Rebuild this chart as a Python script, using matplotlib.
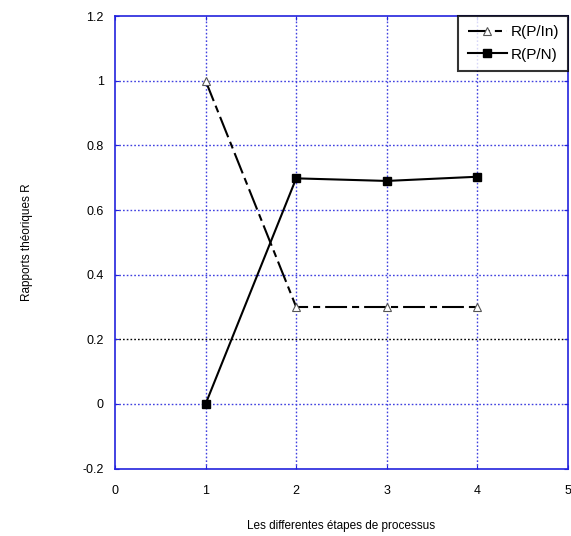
import matplotlib
matplotlib.use("Agg")
import matplotlib.pyplot as plt

plt.rcParams['font.family'] = ['Liberation Sans', 'DejaVu Sans']

steps = [1, 2, 3, 4]
r_p_in = [1.0, 0.3, 0.3, 0.3]
r_p_n = [0.0, 0.698, 0.69, 0.703]
xticks = [0, 1, 2, 3, 4, 5]
yticks = [-0.2, 0, 0.2, 0.4, 0.6, 0.8, 1, 1.2]

fig = plt.figure(figsize=(5.71, 5.36), dpi=100)
ax = fig.add_axes([0.2014, 0.1257, 0.7933, 0.8443])

ax.set_xlim(0, 5)
ax.set_ylim(-0.2, 1.2)
ax.set_xticks(xticks)
ax.set_yticks(yticks)
ax.set_xticklabels([str(t) for t in xticks])
ax.set_yticklabels(['-0.2', '0', '0.2', '0.4', '0.6', '0.8', '1', '1.2'])

for x in xticks[1:-1]:
    ax.axvline(x, color='#4040e0', linestyle=(0, (1.2, 1.5)), linewidth=1.0, zorder=1)
for y in yticks[1:-1]:
    c = 'black' if abs(y - 0.2) < 1e-9 else '#4040e0'
    ax.axhline(y, color=c, linestyle=(0, (1.2, 1.5)), linewidth=1.0, zorder=1)

ax.plot(steps, r_p_in, color='black', linewidth=1.5, linestyle=(0, (10.5, 2.4, 3.4, 2.4)),
        marker='^', markersize=5.5, markerfacecolor='white', markeredgecolor='#555555',
        markeredgewidth=0.8, label='R(P/In)', zorder=3)
ax.plot(steps, r_p_n, color='black', linewidth=1.5, linestyle='-',
        marker='s', markersize=5.5, markerfacecolor='black', markeredgecolor='black',
        label='R(P/N)', zorder=3)

for s in ax.spines.values():
    s.set_color('#2222dd')
    s.set_linewidth(1.2)
ax.tick_params(axis='both', direction='in', length=3, color='#2222dd', labelsize=9,
               top=True, right=True)
ax.tick_params(axis='y', pad=8)
ax.tick_params(axis='x', pad=12)

ax.set_xlabel('Les differentes étapes de processus', fontsize=8.5, labelpad=16)
ax.set_ylabel('Rapports théoriques R', fontsize=8.5, labelpad=36)

leg = ax.legend(loc='upper right', fontsize=11, frameon=True, fancybox=False,
                borderaxespad=0.0, handlelength=2.6, handletextpad=0.2,
                borderpad=0.6, labelspacing=0.55, markerscale=1.0)
leg.get_frame().set_edgecolor('black')
leg.get_frame().set_linewidth(1.5)

fig.savefig('out.png', dpi=100)
